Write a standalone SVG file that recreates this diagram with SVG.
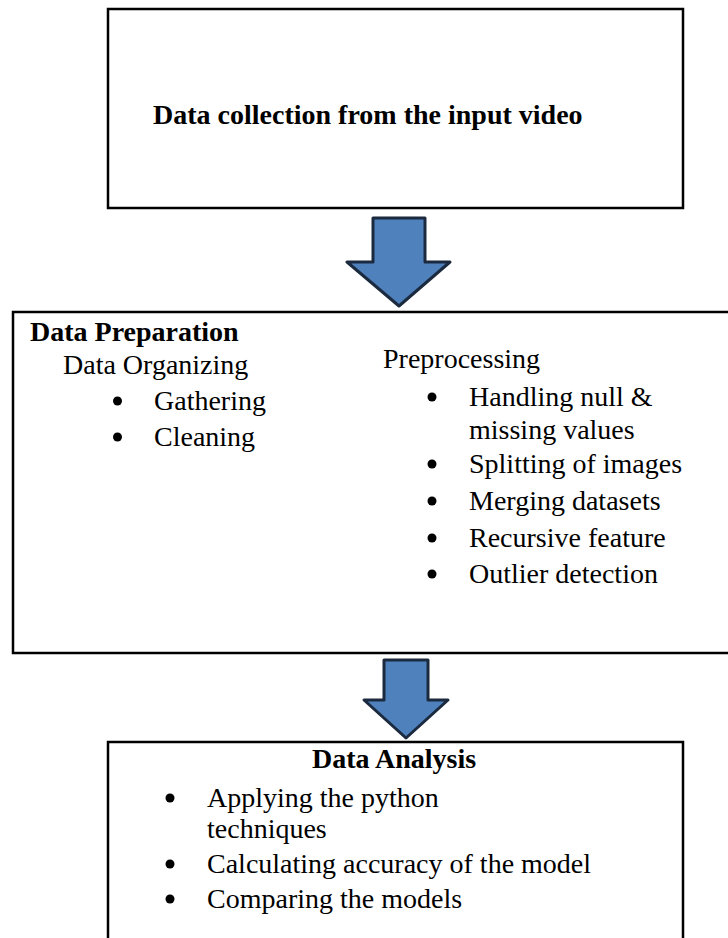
<svg xmlns="http://www.w3.org/2000/svg" width="728" height="938" viewBox="0 0 728 938">
<style>
.box{fill:#fff;stroke:#000;stroke-width:2.5}
.arrow{fill:#4f81bd;stroke:#1b2a3e;stroke-width:3;stroke-linejoin:round}
text{font-family:"Liberation Serif","Times New Roman",serif;font-size:28px;fill:#000}
.b{font-weight:bold}
.dot{fill:#000}
</style>
<rect width="728" height="938" fill="#fff"/>
<g id="connectors">
<polygon class="arrow" points="373,218 425,218 425,262 450,262 399,306 347,262 373,262"/>
<polygon class="arrow" points="384,660 428,660 428,700 448,700 406,738 364,700 384,700"/>
</g>
<g id="node-collection">
<rect class="box" x="108" y="9" width="575" height="199"/>
<text class="b" x="153" y="124">Data collection from the input video</text>
</g>
<g id="node-preparation">
<rect class="box" x="13" y="312" width="722" height="341"/>
<text class="b" x="30" y="341">Data Preparation</text>
<text x="63" y="374">Data Organizing</text>
<circle class="dot" cx="117.5" cy="401" r="4.5"/>
<text x="154" y="410">Gathering</text>
<circle class="dot" cx="117.5" cy="437" r="4.5"/>
<text x="154" y="446">Cleaning</text>
<text x="383" y="368">Preprocessing</text>
<circle class="dot" cx="432" cy="397" r="4.5"/>
<text x="469" y="406">Handling null &amp;</text>
<text x="469" y="439">missing values</text>
<circle class="dot" cx="432" cy="464" r="4.5"/>
<text x="469" y="473">Splitting of images</text>
<circle class="dot" cx="432" cy="501" r="4.5"/>
<text x="469" y="510">Merging datasets</text>
<circle class="dot" cx="432" cy="538" r="4.5"/>
<text x="469" y="547">Recursive feature</text>
<circle class="dot" cx="432" cy="574" r="4.5"/>
<text x="469" y="583">Outlier detection</text>
</g>
<g id="node-analysis">
<rect class="box" x="108" y="742" width="575" height="210"/>
<text class="b" x="394" y="768" text-anchor="middle">Data Analysis</text>
<circle class="dot" cx="170" cy="798" r="4.5"/>
<text x="207" y="807">Applying the python</text>
<text x="207" y="838">techniques</text>
<circle class="dot" cx="170" cy="864" r="4.5"/>
<text x="207" y="873">Calculating accuracy of the model</text>
<circle class="dot" cx="170" cy="899" r="4.5"/>
<text x="207" y="908">Comparing the models</text>
</g>
</svg>
